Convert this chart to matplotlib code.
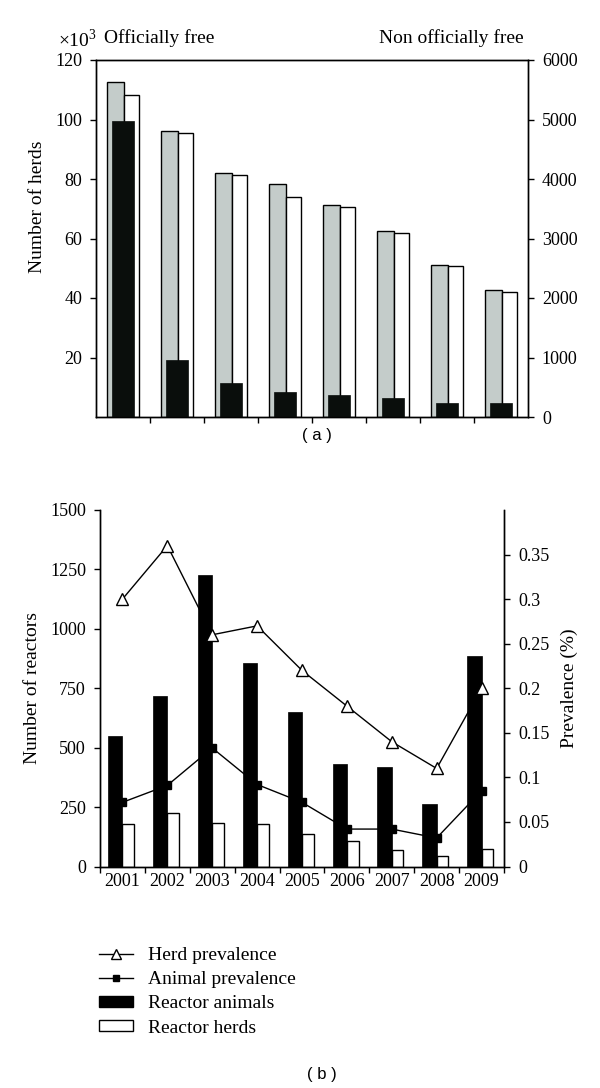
import matplotlib
matplotlib.use("Agg")
import matplotlib.pyplot as plt
import numpy as np
from matplotlib.lines import Line2D
from matplotlib.patches import Patch

# panel (a): number of herds, 8 groups
free_herds_a = [112.5, 96.0, 81.9, 78.4, 71.1, 62.4, 51.1, 42.6]   # x10^3, grey
free_herds_b = [108.2, 95.6, 81.2, 73.9, 70.6, 62.0, 50.6, 42.0]   # x10^3, white
non_free_herds = [4980, 960, 565, 425, 370, 315, 230, 230]         # right axis

# panel (b): reactors and prevalence by year
years = ["2001", "2002", "2003", "2004", "2005", "2006", "2007", "2008", "2009"]
reactor_animals = [548, 718, 1226, 855, 650, 430, 417, 265, 886]
reactor_herds = [177, 227, 182, 177, 138, 107, 70, 44, 75]
herd_prev = [0.30, 0.36, 0.26, 0.27, 0.22, 0.18, 0.14, 0.11, 0.20]
animal_prev = [0.072, 0.091, 0.133, 0.092, 0.072, 0.042, 0.042, 0.032, 0.085]

plt.rcParams["font.family"] = ["Liberation Serif", "DejaVu Serif"]
plt.rcParams["mathtext.fontset"] = "custom"
plt.rcParams["mathtext.rm"] = "Liberation Serif"
plt.rcParams["font.size"] = 14
plt.rcParams["axes.linewidth"] = 1.0

W, H = 600, 1088
fig = plt.figure(figsize=(W / 100, H / 100), dpi=100)


def box(l, t, r, b):
    return [l / W, 1 - b / H, (r - l) / W, (b - t) / H]


tick_kw = dict(direction="out", length=4, width=1.0, pad=6, labelsize=13)

# ---------- (a) ----------
ax = fig.add_axes(box(96, 60, 528, 417))
xa = np.arange(len(free_herds_a))
ax.bar(xa - 0.145, free_herds_a, width=0.31, color="#c4ccca", edgecolor="black", linewidth=1.0)
ax.bar(xa + 0.155, free_herds_b, width=0.29, color="white", edgecolor="black", linewidth=1.0)
ax.set_xlim(-0.5, 7.5)
ax.set_ylim(0, 120)
ax.set_yticks([20, 40, 60, 80, 100, 120])
ax.set_xticks(np.arange(0.5, 7, 1))
ax.set_xticklabels([])
ax.tick_params(**tick_kw)
ax.set_ylabel("Number of herds", fontsize=14)
ax.yaxis.set_label_coords(-0.115, 0.59)

ax2 = ax.twinx()
ax2.bar(xa, non_free_herds, width=0.42, color="#0a0e0c", edgecolor="#0a0e0c", linewidth=0.5)
ax2.set_ylim(0, 6000)
ax2.set_yticks(range(0, 6001, 1000))
ax2.tick_params(**tick_kw)

fig.text(97 / W, 1 - 40 / H, r"$\times10^3$", ha="right", va="center", fontsize=14)
fig.text(104 / W, 1 - 38 / H, "Officially free", ha="left", va="center", fontsize=14)
fig.text(524 / W, 1 - 38 / H, "Non officially free", ha="right", va="center", fontsize=14)
fig.text(317 / W, 1 - 435 / H, "( a )", ha="center", va="center", fontsize=12,
         family=["Liberation Sans", "DejaVu Sans"])

# ---------- (b) ----------
bx = fig.add_axes(box(100, 510, 504, 866.5))
xb = np.arange(len(years))
bx.bar(xb - 0.16, reactor_animals, width=0.32, color="black", edgecolor="black", linewidth=0.5)
bx.bar(xb + 0.13, reactor_herds, width=0.26, color="white", edgecolor="black", linewidth=1.0)
bx.set_xlim(-0.5, 8.5)
bx.set_ylim(0, 1500)
bx.set_yticks(range(0, 1501, 250))
bx.set_xticks(xb)
bx.set_xticklabels(years)
bx.set_xticks(np.arange(-0.5, 9, 1), minor=True)
bx.tick_params(**tick_kw)
bx.tick_params(axis="x", which="major", length=0, pad=5)
bx.tick_params(axis="x", which="minor", direction="out", length=4, width=1.0)
bx.spines["top"].set_visible(False)
bx.set_ylabel("Number of reactors", fontsize=14)
bx.yaxis.set_label_coords(-0.145, 0.5)

bx2 = bx.twinx()
bx2.plot(xb, herd_prev, color="black", lw=1.0, marker="^", ms=8,
         mfc="white", mec="black", mew=1.0)
bx2.plot(xb, animal_prev, color="black", lw=1.0, marker="s", ms=5.5,
         mfc="black", mec="black")
bx2.set_ylim(0, 0.4)
prev_ticks = [0, 0.05, 0.1, 0.15, 0.2, 0.25, 0.3, 0.35]
bx2.set_yticks(prev_ticks)
bx2.set_yticklabels([f"{v:g}" for v in prev_ticks])
bx2.tick_params(**tick_kw)
bx2.spines["top"].set_visible(False)
bx2.set_ylabel("Prevalence (%)", fontsize=14)
bx2.yaxis.set_label_coords(1.14, 0.5)

handles = [
    Line2D([], [], color="black", lw=1.0, marker="^", ms=7, mfc="white", mec="black"),
    Line2D([], [], color="black", lw=1.0, marker="s", ms=5, mfc="black", mec="black"),
    Patch(facecolor="black", edgecolor="black"),
    Patch(facecolor="white", edgecolor="black", linewidth=1.0),
]
labels = ["Herd prevalence", "Animal prevalence", "Reactor animals", "Reactor herds"]
fig.legend(handles, labels, loc="upper left", bbox_to_anchor=(99 / W, 1 - 947 / H),
           frameon=False, fontsize=14, handlelength=1.75, handleheight=0.45,
           handletextpad=0.75, labelspacing=0.37, borderpad=0, borderaxespad=0)

fig.text(322 / W, 1 - 1074 / H, "( b )", ha="center", va="center", fontsize=12,
         family=["Liberation Sans", "DejaVu Sans"])

fig.savefig("out.png", dpi=100)
